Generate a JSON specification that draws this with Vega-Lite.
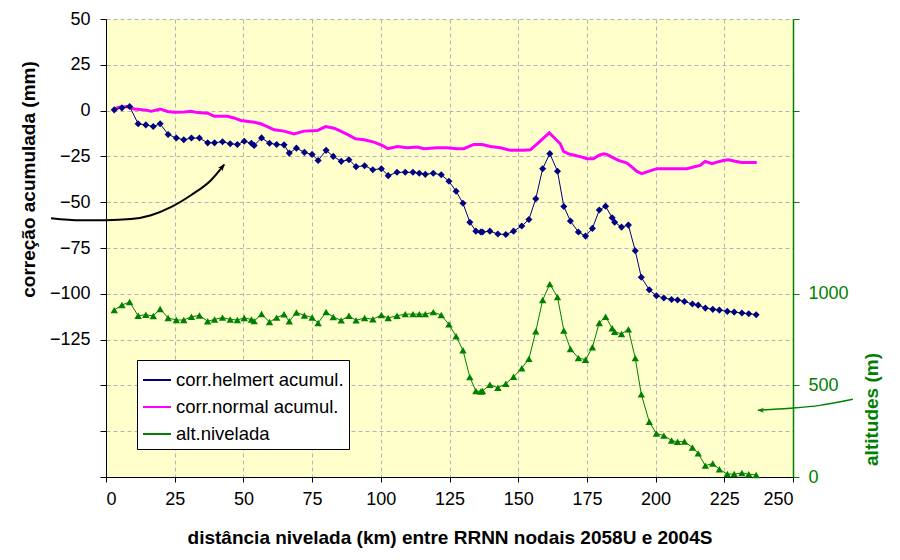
{
  "$schema": "https://vega.github.io/schema/vega-lite/v6.json",
  "width": 687,
  "height": 458,
  "autosize": {"type": "none"},
  "padding": {"left": 106, "top": 19, "right": 107, "bottom": 83},
  "background": "white",
  "config": {
    "view": {"fill": "#FFFFCC", "stroke": null},
    "font": "Liberation Sans",
    "axis": {
      "labelFont": "Liberation Sans", "labelFontSize": 18, "labelColor": "black",
      "titleFont": "Liberation Sans", "titleFontSize": 19, "titleFontWeight": "bold", "titleColor": "black",
      "domainColor": "black", "tickColor": "black", "gridColor": "#B4B4B4", "gridDash": [4, 3], "gridWidth": 1
    },
    "legend": {
      "orient": "none", "legendX": 31, "legendY": 341, "title": null,
      "fillColor": "white", "strokeColor": "black", "strokeWidth": 1, "padding": 5, "cornerRadius": 0,
      "labelFont": "Liberation Sans", "labelFontSize": 18.5, "labelColor": "black", "labelLimit": 0,
      "symbolType": "stroke", "symbolSize": 784, "symbolStrokeWidth": 2, "rowPadding": 2, "labelOffset": 4, "symbolOpacity": 1
    }
  },
  "datasets": {
    "stations": [
      {"km":3.0,"h":0.4,"alt":911},{"km":5.8,"h":1.5,"alt":939},{"km":8.6,"h":2.2,"alt":955},{"km":11.7,"h":-7.2,"alt":880},{"km":14.5,"h":-7.8,"alt":886},{"km":17.2,"h":-8.7,"alt":879},{"km":19.7,"h":-7.2,"alt":917},{"km":22.6,"h":-13.0,"alt":868},{"km":25.6,"h":-15.0,"alt":857},{"km":28.3,"h":-15.9,"alt":857},{"km":31.1,"h":-15.0,"alt":875},{"km":34.0,"h":-15.0,"alt":882},{"km":37.0,"h":-17.6,"alt":850},{"km":39.5,"h":-17.6,"alt":860},{"km":42.4,"h":-17.0,"alt":870},{"km":45.2,"h":-18.1,"alt":860},{"km":47.8,"h":-18.5,"alt":857},{"km":50.3,"h":-16.7,"alt":868},{"km":52.9,"h":-17.8,"alt":860},{"km":53.9,"h":-19.0,"alt":851},{"km":56.6,"h":-14.9,"alt":890},{"km":59.5,"h":-17.8,"alt":846},{"km":62.1,"h":-18.5,"alt":870},{"km":64.8,"h":-18.7,"alt":888},{"km":66.7,"h":-23.2,"alt":850},{"km":69.3,"h":-20.5,"alt":898},{"km":72.2,"h":-22.8,"alt":882},{"km":75.0,"h":-23.9,"alt":871},{"km":77.2,"h":-27.2,"alt":841},{"km":80.1,"h":-21.7,"alt":901},{"km":82.7,"h":-25.0,"alt":873},{"km":85.6,"h":-27.7,"alt":855},{"km":88.4,"h":-26.8,"alt":880},{"km":91.0,"h":-30.6,"alt":855},{"km":94.1,"h":-30.1,"alt":868},{"km":97.1,"h":-32.3,"alt":861},{"km":100.2,"h":-31.7,"alt":884},{"km":102.7,"h":-35.5,"alt":868},{"km":105.9,"h":-33.7,"alt":880},{"km":108.9,"h":-33.7,"alt":889},{"km":111.7,"h":-33.7,"alt":889},{"km":114.0,"h":-34.2,"alt":889},{"km":116.2,"h":-34.8,"alt":889},{"km":119.1,"h":-34.2,"alt":900},{"km":122.0,"h":-35.0,"alt":884},{"km":124.8,"h":-38.6,"alt":833},{"km":127.4,"h":-44.0,"alt":768},{"km":129.9,"h":-50.6,"alt":692},{"km":132.4,"h":-60.9,"alt":545},{"km":134.6,"h":-65.8,"alt":469},{"km":136.4,"h":-66.3,"alt":467},{"km":137.0,"h":-66.3,"alt":469},{"km":139.7,"h":-65.8,"alt":504},{"km":142.6,"h":-67.4,"alt":487},{"km":145.5,"h":-67.6,"alt":509},{"km":148.3,"h":-65.8,"alt":547},{"km":151.3,"h":-63.0,"alt":594},{"km":153.9,"h":-59.4,"alt":645},{"km":156.4,"h":-48.1,"alt":795},{"km":158.9,"h":-31.7,"alt":966},{"km":161.5,"h":-23.5,"alt":1053},{"km":164.3,"h":-33.1,"alt":982},{"km":166.6,"h":-52.3,"alt":800},{"km":169.0,"h":-60.3,"alt":699},{"km":171.9,"h":-66.3,"alt":650},{"km":174.5,"h":-68.5,"alt":640},{"km":177.0,"h":-64.3,"alt":708},{"km":179.5,"h":-54.3,"alt":841},{"km":181.8,"h":-52.2,"alt":875},{"km":184.2,"h":-58.5,"alt":812},{"km":185.1,"h":-60.9,"alt":793},{"km":187.6,"h":-63.6,"alt":781},{"km":190.1,"h":-62.5,"alt":806},{"km":192.6,"h":-76.5,"alt":649},{"km":194.8,"h":-91.0,"alt":451},{"km":197.7,"h":-97.8,"alt":301},{"km":200.3,"h":-101.1,"alt":237},{"km":203.0,"h":-102.3,"alt":226},{"km":205.8,"h":-103.1,"alt":199},{"km":208.0,"h":-103.4,"alt":192},{"km":210.5,"h":-104.2,"alt":194},{"km":213.4,"h":-105.6,"alt":161},{"km":215.5,"h":-106.2,"alt":129},{"km":218.1,"h":-107.8,"alt":62},{"km":220.8,"h":-108.5,"alt":74},{"km":223.2,"h":-108.9,"alt":42},{"km":226.1,"h":-109.6,"alt":16},{"km":228.6,"h":-110.0,"alt":16},{"km":231.4,"h":-110.5,"alt":22},{"km":233.9,"h":-110.9,"alt":15},{"km":236.6,"h":-111.4,"alt":11}
    ],
    "normal": [
      {"km":3.0,"n":0.9},{"km":4.8,"n":1.8},{"km":7.9,"n":2.2},{"km":10.3,"n":0.9},{"km":13.9,"n":0.4},{"km":16.4,"n":-0.4},{"km":19.7,"n":0.9},{"km":22.4,"n":-0.5},{"km":24.8,"n":-0.9},{"km":28.5,"n":-0.7},{"km":30.9,"n":-0.4},{"km":33.3,"n":-1.1},{"km":37.0,"n":-1.4},{"km":39.4,"n":-3.1},{"km":44.2,"n":-3.1},{"km":46.6,"n":-4.0},{"km":49.1,"n":-5.4},{"km":53.9,"n":-6.3},{"km":56.3,"n":-7.2},{"km":58.7,"n":-8.7},{"km":61.2,"n":-10.5},{"km":64.8,"n":-11.2},{"km":68.4,"n":-12.7},{"km":72.1,"n":-11.2},{"km":76.9,"n":-10.9},{"km":79.9,"n":-8.7},{"km":83.0,"n":-9.6},{"km":85.4,"n":-11.2},{"km":87.8,"n":-13.0},{"km":90.8,"n":-15.4},{"km":93.9,"n":-15.9},{"km":97.5,"n":-17.2},{"km":100.5,"n":-19.0},{"km":102.6,"n":-20.8},{"km":106.0,"n":-19.6},{"km":109.6,"n":-20.3},{"km":113.3,"n":-19.9},{"km":115.7,"n":-20.8},{"km":120.5,"n":-20.3},{"km":124.1,"n":-20.3},{"km":127.8,"n":-20.8},{"km":130.2,"n":-20.8},{"km":133.8,"n":-18.5},{"km":136.9,"n":-18.5},{"km":139.9,"n":-19.6},{"km":143.5,"n":-20.3},{"km":147.2,"n":-21.7},{"km":152.0,"n":-21.7},{"km":154.4,"n":-21.4},{"km":156.9,"n":-18.1},{"km":161.3,"n":-12.1},{"km":165.3,"n":-18.1},{"km":166.5,"n":-22.3},{"km":168.4,"n":-23.6},{"km":170.8,"n":-24.5},{"km":173.2,"n":-25.4},{"km":175.0,"n":-26.3},{"km":177.4,"n":-26.3},{"km":179.3,"n":-24.5},{"km":181.1,"n":-23.6},{"km":182.3,"n":-23.9},{"km":184.1,"n":-25.4},{"km":186.5,"n":-27.2},{"km":189.6,"n":-28.6},{"km":191.4,"n":-30.8},{"km":193.2,"n":-33.2},{"km":195.0,"n":-34.4},{"km":197.4,"n":-33.2},{"km":200.5,"n":-31.7},{"km":205.3,"n":-31.7},{"km":211.4,"n":-31.7},{"km":213.8,"n":-30.8},{"km":216.2,"n":-29.9},{"km":218.0,"n":-27.7},{"km":220.5,"n":-29.0},{"km":222.3,"n":-28.1},{"km":224.7,"n":-27.2},{"km":226.5,"n":-26.8},{"km":228.9,"n":-27.6},{"km":231.3,"n":-28.3},{"km":236.8,"n":-28.3}
    ],
    "arrowBlack": [
      {"km":-20.0,"v":-58.7},{"km":-9.1,"v":-59.8},{"km":0,"v":-59.8},{"km":9.1,"v":-59.2},{"km":16.4,"v":-57.1},{"km":23.6,"v":-52.7},{"km":30.9,"v":-46.2},{"km":38.2,"v":-38.0},{"km":43.0,"v":-29.5}
    ],
    "arrowBlackHead": [{"km":43.2,"v":-29.0}],
    "arrowGreen": [
      {"km":271.8,"a":424},{"km":259.8,"a":391},{"km":248.9,"a":375},{"km":237.3,"a":364}
    ],
    "arrowGreenHead": [{"km":237.0,"a":364}]
  },
  "layer": [
    {
      "layer": [
        {
          "data": {"name": "normal"},
          "transform": [{"fold": ["n"], "as": ["s", "v"]}],
          "mark": {"type": "line", "strokeWidth": 3},
          "encoding": {
            "x": {"field": "km", "type": "quantitative", "scale": {"domain": [0, 250], "nice": false},
              "axis": {"values": [0,25,50,75,100,125,150,175,200,225,250], "title": "distância nivelada (km) entre RRNN nodais 2058U e 2004S",
                "grid": true, "tickSize": 5, "labelPadding": 8, "titleY": 60, "titleBaseline": "middle"}},
            "y": {"field": "v", "type": "quantitative", "scale": {"domain": [-200, 50], "nice": false},
              "axis": {"values": [-200,-175,-150,-125,-100,-75,-50,-25,0,25,50], "title": "correção acumulada (mm)",
                "labelExpr": "datum.value < -125 ? '' : datum.label", "grid": true, "tickSize": 6, "labelPadding": 10,
                "titleX": -68, "titleY": 160, "titleAngle": 270, "titleBaseline": "bottom", "titleAlign": "center"}},
            "color": {"field": "s", "type": "nominal",
              "scale": {"domain": ["h", "n", "alt"], "range": ["#000080", "#FF00FF", "#008000"]},
              "legend": {
                "labelLimit": 0,
                "labelExpr": "datum.value == 'h' ? 'corr.helmert acumul.' : datum.value == 'n' ? 'corr.normal acumul.' : 'alt.nivelada'"
              }}
          }
        },
        {
          "data": {"name": "stations"},
          "transform": [{"fold": ["h"], "as": ["s", "v"]}],
          "mark": {"type": "line", "strokeWidth": 1},
          "encoding": {
            "x": {"field": "km", "type": "quantitative"},
            "y": {"field": "v", "type": "quantitative"},
            "color": {"field": "s", "type": "nominal"}
          }
        },
        {
          "data": {"name": "stations"},
          "mark": {"type": "point", "shape": "diamond", "filled": true, "size": 50, "color": "#000080", "opacity": 1},
          "encoding": {
            "x": {"field": "km", "type": "quantitative"},
            "y": {"field": "h", "type": "quantitative"}
          }
        },
        {
          "data": {"name": "arrowBlack"},
          "mark": {"type": "line", "strokeWidth": 2, "color": "black", "interpolate": "monotone", "clip": false},
          "encoding": {
            "x": {"field": "km", "type": "quantitative"},
            "y": {"field": "v", "type": "quantitative"}
          }
        },
        {
          "data": {"name": "arrowBlackHead"},
          "mark": {"type": "point", "shape": "M0,0L0.55,1.5L0,1.1L-0.55,1.5Z", "filled": true, "size": 100, "color": "black", "opacity": 1, "angle": 37},
          "encoding": {
            "x": {"field": "km", "type": "quantitative"},
            "y": {"field": "v", "type": "quantitative"}
          }
        }
      ]
    },
    {
      "layer": [
        {
          "data": {"name": "stations"},
          "transform": [{"fold": ["alt"], "as": ["s", "v"]}],
          "mark": {"type": "line", "strokeWidth": 1},
          "encoding": {
            "x": {"field": "km", "type": "quantitative"},
            "y": {"field": "v", "type": "quantitative", "scale": {"domain": [0, 2500], "nice": false},
              "axis": {"orient": "right", "values": [0,500,1000,1500,2000,2500], "title": "altitudes (m)", "format": "d",
                "labelExpr": "datum.value > 1000 ? '' : datum.label", "grid": false, "tickSize": 6, "labelPadding": 9,
                "domainColor": "#008000", "tickColor": "#008000", "labelColor": "#008000", "titleColor": "#008000", "domainWidth": 1.5,
                "titleX": 88, "titleY": 390, "titleAngle": 270, "titleBaseline": "bottom", "titleAlign": "center"}},
            "color": {"field": "s", "type": "nominal"}
          }
        },
        {
          "data": {"name": "stations"},
          "mark": {"type": "point", "shape": "triangle-up", "filled": true, "size": 55, "color": "#008000", "opacity": 1},
          "encoding": {
            "x": {"field": "km", "type": "quantitative"},
            "y": {"field": "alt", "type": "quantitative"}
          }
        },
        {
          "data": {"name": "arrowGreen"},
          "mark": {"type": "line", "strokeWidth": 1.5, "color": "#008000", "interpolate": "monotone", "clip": false},
          "encoding": {
            "x": {"field": "km", "type": "quantitative"},
            "y": {"field": "a", "type": "quantitative"}
          }
        },
        {
          "data": {"name": "arrowGreenHead"},
          "mark": {"type": "point", "shape": "M0,0L0.55,1.5L0,1.1L-0.55,1.5Z", "filled": true, "size": 80, "color": "#008000", "opacity": 1, "angle": 270},
          "encoding": {
            "x": {"field": "km", "type": "quantitative"},
            "y": {"field": "a", "type": "quantitative"}
          }
        }
      ]
    }
  ],
  "resolve": {"scale": {"y": "independent"}}
}
